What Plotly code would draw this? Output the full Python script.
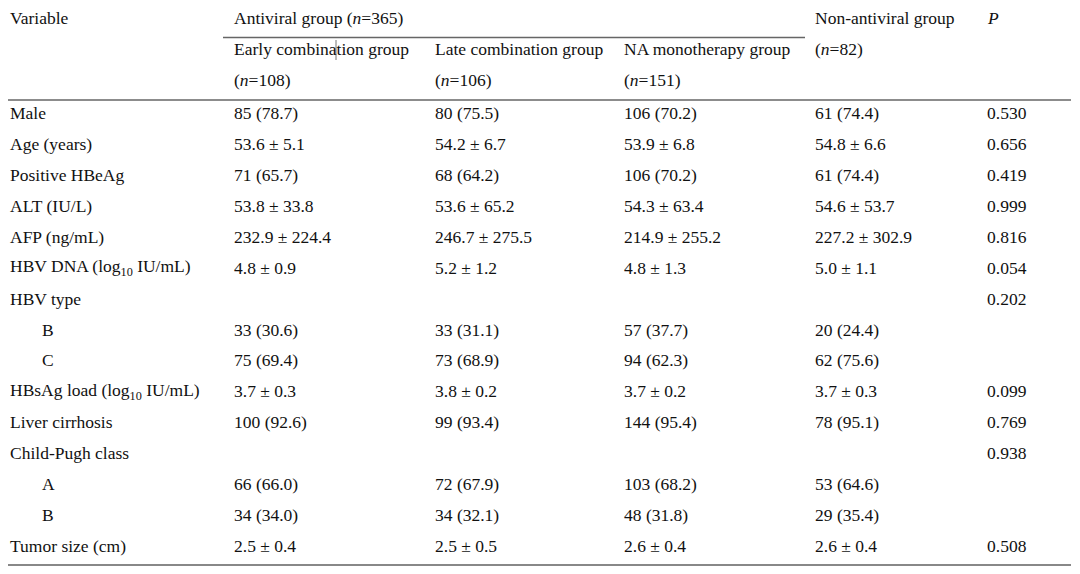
import plotly.graph_objects as go

variables = ["Male", "Age (years)", "Positive HBeAg", "ALT (IU/L)", "AFP (ng/mL)",
             "HBV DNA (log<sub>10</sub> IU/mL)", "HBV type", "B", "C",
             "HBsAg load (log<sub>10</sub> IU/mL)", "Liver cirrhosis", "Child-Pugh class",
             "A", "B", "Tumor size (cm)"]
indented = [False, False, False, False, False, False, False, True, True,
            False, False, False, True, True, False]
early = ["85 (78.7)", "53.6 ± 5.1", "71 (65.7)", "53.8 ± 33.8", "232.9 ± 224.4", "4.8 ± 0.9",
         "", "33 (30.6)", "75 (69.4)", "3.7 ± 0.3", "100 (92.6)", "", "66 (66.0)", "34 (34.0)", "2.5 ± 0.4"]
late = ["80 (75.5)", "54.2 ± 6.7", "68 (64.2)", "53.6 ± 65.2", "246.7 ± 275.5", "5.2 ± 1.2",
        "", "33 (31.1)", "73 (68.9)", "3.8 ± 0.2", "99 (93.4)", "", "72 (67.9)", "34 (32.1)", "2.5 ± 0.5"]
na_mono = ["106 (70.2)", "53.9 ± 6.8", "106 (70.2)", "54.3 ± 63.4", "214.9 ± 255.2", "4.8 ± 1.3",
           "", "57 (37.7)", "94 (62.3)", "3.7 ± 0.2", "144 (95.4)", "", "103 (68.2)", "48 (31.8)", "2.6 ± 0.4"]
non_antiviral = ["61 (74.4)", "54.8 ± 6.6", "61 (74.4)", "54.6 ± 53.7", "227.2 ± 302.9", "5.0 ± 1.1",
                 "", "20 (24.4)", "62 (75.6)", "3.7 ± 0.3", "78 (95.1)", "", "53 (64.6)", "29 (35.4)", "2.6 ± 0.4"]
p_values = ["0.530", "0.656", "0.419", "0.999", "0.816", "0.054", "0.202", "", "",
            "0.099", "0.769", "0.938", "", "", "0.508"]

header_row1 = ["Variable", "Antiviral group (<i>n</i>=365)", "", "", "Non-antiviral group", "<i>P</i>"]
header_row2 = ["", "Early combination group", "Late combination group", "NA monotherapy group", "(<i>n</i>=82)", ""]
header_row3 = ["", "(<i>n</i>=108)", "(<i>n</i>=106)", "(<i>n</i>=151)", "", ""]

W, H = 1080, 574
OFF = 8  # page body margin; axis ranges shifted so data coords equal page pixels
col_x = [8, 232, 433, 622, 813, 985]
indent_x = 40
header_y = [18, 49, 80]
body_y0, body_dy = 113, 30.93
FONT = dict(family="Liberation Serif, Times New Roman, serif", size=17.5, color="#111111")

fig = go.Figure()
fig.add_trace(go.Scatter(x=[OFF, W], y=[OFF, H], mode="markers", marker=dict(opacity=0),
                         hoverinfo="skip", showlegend=False))

ann = []
def add_text(x, y, t):
    if t:
        ann.append(dict(x=x, y=y, text=t, xref="x", yref="y", showarrow=False,
                        xanchor="left", yanchor="middle", font=FONT))

for row, y in zip([header_row1, header_row2, header_row3], header_y):
    for cx, t in zip(col_x, row):
        add_text(cx, y, t)

columns = [early, late, na_mono, non_antiviral, p_values]
for i, name in enumerate(variables):
    y = body_y0 + i * body_dy
    add_text(indent_x if indented[i] else col_x[0], y, name)
    for cx, col in zip(col_x[1:], columns):
        add_text(cx, y, col[i])

line_col = "#666666"
shapes = [
    dict(type="line", x0=3, x1=1071, y0=5, y1=5, line=dict(color=line_col, width=2)),
    dict(type="line", x0=223, x1=805, y0=37.5, y1=37.5, line=dict(color=line_col, width=1.3)),
    dict(type="line", x0=3, x1=1071, y0=100, y1=100, line=dict(color=line_col, width=1.5)),
    dict(type="line", x0=3, x1=1071, y0=565, y1=565, line=dict(color="#888888", width=2)),
    dict(type="line", x0=336, x1=336, y0=40, y1=60, line=dict(color="#777777", width=1)),
]
for s in shapes:
    s.update(xref="x", yref="y")

fig.update_layout(
    width=W - OFF, height=H - OFF, margin=dict(l=0, r=0, t=0, b=0),
    paper_bgcolor="white", plot_bgcolor="white",
    xaxis=dict(range=[OFF, W], visible=False, fixedrange=True),
    yaxis=dict(range=[H, OFF], visible=False, fixedrange=True),
    annotations=ann, shapes=shapes, showlegend=False,
)
fig.write_html("out.html", config=dict(displayModeBar=False))
